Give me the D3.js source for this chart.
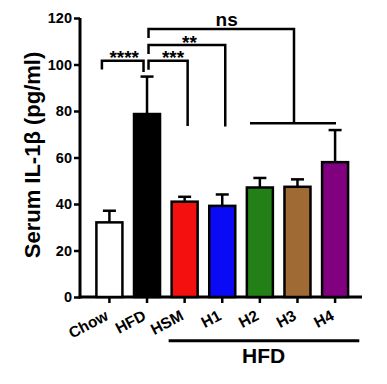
<!DOCTYPE html>
<html>
<head>
<meta charset="utf-8">
<script src="https://cdn.jsdelivr.net/npm/d3@7"></script>
<style>
body { margin: 0; background: #fff; }
text { font-family: "Liberation Sans", Arial, sans-serif; font-weight: bold; }
</style>
</head>
<body>
<div id="chart"></div>
<script>
var groups = ["Chow", "HFD", "HSM", "H1", "H2", "H3", "H4"];
var means = [32.1, 78.7, 41.0, 39.2, 47.1, 47.4, 58.0];
var errors = [5.0, 16.1, 2.1, 4.9, 4.1, 3.2, 13.8];
var colors = ["#ffffff", "#000000", "#f51010", "#0a0af5", "#238016", "#a06a35", "#800080"];
var yTicks = [0, 20, 40, 60, 80, 100, 120];

// significance brackets: from HFD to target group
var sigTargets = ["HSM", "H1", "H4"];
var sigLabels = ["***", "**", "ns"];
var sigLevels = [60.7, 45, 29];

var width = 387, height = 384;
var svg = d3.select("#chart").append("svg").attr("width", width).attr("height", height);

var y = d3.scaleLinear().domain([0, 120]).range([297, 18]);
var x = d3.scaleBand().domain(groups).range([95.4, 349.1]).paddingInner(0.255).paddingOuter(0);
var cx = function (g) { return x(g) + x.bandwidth() / 2; };

// y axis
var yAxis = svg.append("g").attr("transform", "translate(80,0)")
    .call(d3.axisLeft(y).tickValues(yTicks).tickSize(6).tickPadding(2));
yAxis.select(".domain").attr("stroke-width", 3).attr("d", "M0," + y(120) + "V" + (y(0) + 1.5));
yAxis.selectAll(".tick line").attr("stroke-width", 2.5);
yAxis.selectAll(".tick text").attr("font-size", 14.5).attr("fill", "#000").attr("dy", "0.34em");

// x axis
var xAxis = svg.append("g").attr("transform", "translate(0," + y(0) + ")")
    .call(d3.axisBottom(x).tickSize(6).tickSizeOuter(0));
xAxis.select(".domain").attr("stroke-width", 3).attr("d", "M78.5,0H362");
xAxis.selectAll(".tick line").attr("stroke-width", 2.5);
xAxis.selectAll(".tick text").attr("font-size", 15.5).attr("fill", "#000")
    .attr("text-anchor", "end").attr("dy", 0).attr("y", 0)
    .attr("transform", "translate(0,22) rotate(-28)");

// y label
svg.append("text").attr("transform", "translate(40,155) rotate(-90)")
    .attr("text-anchor", "middle").attr("font-size", 22).text("Serum IL-1β (pg/ml)");

// error bars (upper only)
var eb = svg.selectAll(".eb").data(groups).enter().append("g");
eb.append("line").attr("x1", cx).attr("x2", cx)
    .attr("y1", (d, i) => y(means[i])).attr("y2", (d, i) => y(means[i] + errors[i]))
    .attr("stroke", "#000").attr("stroke-width", 2.5);
eb.append("line").attr("x1", d => cx(d) - 6.5).attr("x2", d => cx(d) + 6.5)
    .attr("y1", (d, i) => y(means[i] + errors[i])).attr("y2", (d, i) => y(means[i] + errors[i]))
    .attr("stroke", "#000").attr("stroke-width", 2.5);

// bars
svg.selectAll(".bar").data(groups).enter().append("rect")
    .attr("x", d => x(d) + 1).attr("width", x.bandwidth() - 2)
    .attr("y", (d, i) => y(means[i])).attr("height", (d, i) => y(0) - y(means[i]))
    .attr("fill", (d, i) => colors[i]).attr("stroke", "#000").attr("stroke-width", 2.5);

var line = function (pts) {
    svg.append("path").attr("d", d3.line()(pts)).attr("fill", "none")
        .attr("stroke", "#000").attr("stroke-width", 2.5);
};

// Chow vs HFD
line([[cx("Chow") - 7.5, 69.5], [cx("Chow") - 7.5, 60.7], [cx("HFD") - 3.5, 60.7], [cx("HFD") - 3.5, 72]]);
svg.append("text").attr("x", (cx("Chow") + cx("HFD")) / 2 - 4).attr("y", 64)
    .attr("text-anchor", "middle").attr("font-size", 19).text("****");

var legEnds = [126, 126.5, 123.3];
sigTargets.forEach(function (t, i) {
    var lv = sigLevels[i];
    var xr = t === "H4" ? 294 : cx(t) + 3;
    line([[cx("HFD") + 1.5, lv + 9], [cx("HFD") + 1.5, lv], [xr, lv], [xr, legEnds[i]]]);
    var tx = sigLabels[i] === "ns" ? 226.7 : (i === 0 ? 173 : 189.5);
    svg.append("text").attr("x", tx).attr("y", sigLabels[i] === "ns" ? lv - 3 : lv + 3.5)
        .attr("text-anchor", "middle").attr("font-size", 19).text(sigLabels[i]);
});

// H2-H4 group line
line([[250, 123.3], [336, 123.3]]);

// HFD group line under axis
svg.append("line").attr("x1", x("HSM") - 2).attr("x2", 359.3).attr("y1", 340.7).attr("y2", 340.7)
    .attr("stroke", "#000").attr("stroke-width", 3);
svg.append("text").attr("x", 263.7).attr("y", 363).attr("text-anchor", "middle")
    .attr("font-size", 21).text("HFD");
</script>
</body>
</html>
